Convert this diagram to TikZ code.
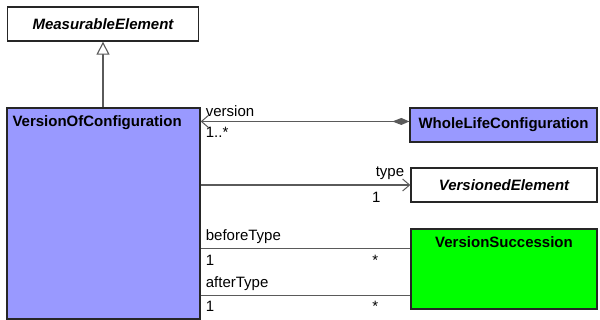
\documentclass[tikz,border=0pt]{standalone}
\usepackage{fontspec}
\setmainfont{Liberation Sans}
\usetikzlibrary{arrows.meta,calc}
\definecolor{umlblue}{HTML}{9999FF}
\definecolor{umlgreen}{HTML}{00FF00}
\definecolor{umlline}{HTML}{5A5A5A}
\tikzset{
  classbox/.style={draw=black!85, line width=1.3pt, rectangle, inner sep=0pt},
  assoc/.style={draw=umlline, line width=1.1pt},
  navto/.style={-{Straight Barb[length=7pt,width=12pt,line width=1pt]}},
  role/.style={inner sep=0pt, font=\fontsize{15}{17}\selectfont},
}
\begin{document}
\begin{tikzpicture}[x=1pt, y=-1pt, font=\fontsize{15}{17}\selectfont\bfseries]
  \useasboundingbox (0,0) rectangle (600,320);
  % --- classes ---
  \node[classbox, fill=white, minimum width=191pt, minimum height=34pt]
    (measurable) at (103,24) {\itshape MeasurableElement};
  \node[classbox, fill=umlblue, minimum width=193pt, minimum height=211pt]
    (voc) at (103.5,213.5) {};
  \node[anchor=north west, inner sep=0pt] (voctitle) at ($(voc.north west)+(6,8)$)
    {VersionOfConfiguration};
  \node[classbox, fill=umlblue, minimum width=187pt, minimum height=34pt]
    (whole) at (503.5,125) {WholeLifeConfiguration};
  \node[classbox, fill=white, minimum width=186pt, minimum height=34pt]
    (versioned) at (504,185) {\itshape VersionedElement};
  \node[classbox, fill=umlgreen, minimum width=186pt, minimum height=80pt]
    (succ) at (504,269) {};
  \node[anchor=north, inner sep=0pt] (succtitle) at ($(succ.north)+(0,8)$)
    {VersionSuccession};
  % --- generalization ---
  \draw[assoc, -{Triangle[open,length=13pt,width=13pt,line width=1.1pt,fill=white]}]
    (voc.north -| measurable.south) -- (measurable.south);
  % --- version (composition) ---
  \coordinate (wv) at ($(whole.north west)!0.4!(whole.south west)$);
  \draw[assoc, navto] (wv) -- (wv -| voc.east);
  \fill[umlline] (wv) -- ++(-8,-3.5) -- ++(-9,3.5) -- ++(9,3.5) -- cycle;
  \node[role, anchor=south west] (lversion) at ($(wv -| voc.east)+(5,-5)$) {version};
  \node[role, anchor=north west] (mversion) at ($(wv -| voc.east)+(5,6)$) {1..*};
  % --- type ---
  \draw[assoc, navto] (voc.east |- versioned.west) -- (versioned.west);
  \node[role, anchor=south east] (ltype) at ($(versioned.west)+(-6,-5)$) {type};
  \node[role, anchor=north] (mtype) at ($(versioned.west)+(-34,7)$) {1};
  % --- beforeType / afterType ---
  \coordinate (sb) at ($(succ.north west)!0.25!(succ.south west)$);
  \coordinate (sa) at ($(succ.north west)!0.825!(succ.south west)$);
  \foreach \c/\r/\n in {sb/beforeType/before, sa/afterType/after} {
    \draw[assoc] (voc.east |- \c) -- (\c);
    \node[role, anchor=south west] (l\n) at ($(voc.east |- \c)+(5,-5)$) {\r};
    \node[role, anchor=north west] (m\n) at ($(voc.east |- \c)+(5,6)$) {1};
    \node[role, anchor=north] (s\n) at ($(\c)+(-35,6)$) {*};
  }
\end{tikzpicture}
\end{document}
